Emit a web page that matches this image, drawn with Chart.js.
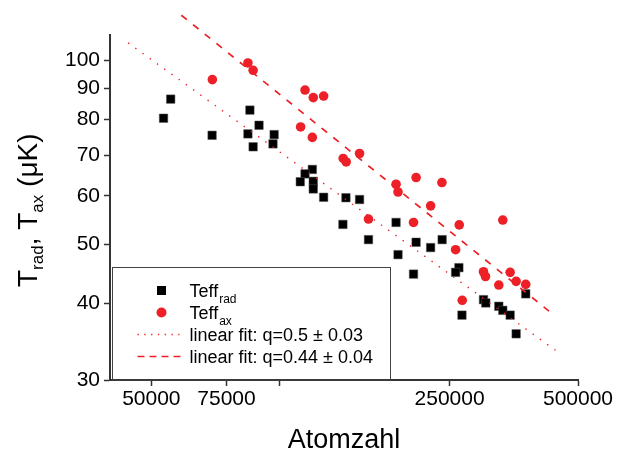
<!DOCTYPE html>
<html>
<head>
<meta charset="utf-8">
<script src="https://cdn.jsdelivr.net/npm/chart.js@4"></script>
<style>
  html, body { margin: 0; padding: 0; background: #fff; }
  #wrap { width: 617px; height: 457px; }
</style>
</head>
<body>
<div id="wrap"><canvas id="chart" width="617" height="457"></canvas></div>
<script>
// Teff vs Atomzahl, log-log

const radX = [55500, 53400, 69400, 85100, 89400, 84200, 97000, 86600, 96400, 119200, 114600, 111700, 119800, 119800, 126700, 142900, 140600, 153800, 161400, 187300, 189300, 208700, 205800, 225700, 240200, 262900, 258300, 267300, 300200, 304000, 326100, 333200, 346700, 358100, 377100];
const radY = [86.4, 80.4, 75.4, 82.9, 78.3, 75.8, 75.6, 72.2, 73.0, 66.3, 65.2, 63.3, 63.4, 61.6, 59.7, 59.6, 53.9, 59.2, 50.9, 54.3, 48.1, 50.4, 44.7, 49.4, 50.9, 45.8, 45.0, 38.3, 40.6, 40.1, 39.6, 39.0, 38.3, 35.7, 41.5];

const axX = [69500, 84200, 86600, 114600, 119800, 126700, 111900, 119200, 140800, 143100, 153800, 187300, 189300, 208700, 239900, 161400, 205800, 225700, 263400, 258300, 333200, 300200, 303500, 326100, 346700, 358100, 377100, 267700];
const axY = [93.0, 99.0, 96.3, 89.4, 86.9, 87.4, 77.8, 74.8, 69.1, 68.2, 70.4, 62.7, 60.9, 64.3, 63.1, 55.0, 54.3, 57.8, 53.8, 49.0, 54.8, 45.1, 44.3, 42.9, 45.0, 43.5, 43.0, 40.5];

// fit lines (end points)
const fitRadX = [44100, 452200];
const fitRadY = [106.8, 33.2];
const fitAxX = [58800, 429200];
const fitAxY = [118.5, 38.8];

const xTickValues = [50000, 75000, 100000, 250000, 500000];
const xTickLabels = ['50000', '75000', '', '250000', '500000'];
const yTickValues = [30, 40, 50, 60, 70, 80, 90, 100];

const legendLabels = ['Teff', 'Teff', 'linear fit: q=0.5 \u00b1 0.03', 'linear fit: q=0.44 \u00b1 0.04'];
const legendSubs = ['rad', 'ax', '', ''];

const RED = 'rgb(236,32,38)';
const AXIS = '#333';
const FONT = 'Arial, "Liberation Sans", sans-serif';

function pts(xs, ys) {
  return xs.map((x, i) => ({ x: x, y: ys[i] }));
}

// y axis title with subscripts, drawn rotated
const yTitlePlugin = {
  id: 'yTitle',
  afterDraw(chart) {
    const ctx = chart.ctx;
    const parts = [
      ['T', 28, 0], ['rad', 17, 6], [', ', 28, 0],
      ['T', 28, 0], ['ax', 17, 6], [' (\u03bcK)', 28, 0]
    ];
    ctx.save();
    let total = 0;
    parts.forEach(p => {
      ctx.font = p[1] + 'px ' + FONT;
      total += ctx.measureText(p[0]).width;
    });
    ctx.translate(37, 287);
    ctx.rotate(-Math.PI / 2);
    ctx.fillStyle = '#000';
    ctx.textBaseline = 'alphabetic';
    ctx.textAlign = 'left';
    let x = 0;
    parts.forEach(p => {
      ctx.font = p[1] + 'px ' + FONT;
      ctx.fillText(p[0], x, p[2]);
      x += ctx.measureText(p[0]).width;
    });
    ctx.restore();
  }
};

// boxed legend sitting on the x axis
const legendPlugin = {
  id: 'boxLegend',
  afterDraw(chart) {
    const ctx = chart.ctx;
    const a = chart.chartArea;
    const left = a.left + 2.5;
    const top = a.bottom - 112.5;
    ctx.save();
    ctx.strokeStyle = '#444';
    ctx.lineWidth = 1;
    ctx.strokeRect(left, top, 278, 112.5);

    const symX = left + 49;
    const textX = left + 77;
    const rows = [23, 45, 67, 89];

    // square
    ctx.fillStyle = '#000';
    ctx.fillRect(symX - 4.5, top + rows[0] - 4.5, 9, 9);
    // circle
    ctx.fillStyle = RED;
    ctx.beginPath();
    ctx.arc(symX, top + rows[1], 5, 0, Math.PI * 2);
    ctx.fill();
    // dotted
    ctx.strokeStyle = RED;
    ctx.lineWidth = 1.3;
    ctx.setLineDash([1.3, 5.5]);
    ctx.beginPath();
    ctx.moveTo(symX - 24, top + rows[2]);
    ctx.lineTo(symX + 18, top + rows[2]);
    ctx.stroke();
    // dashed
    ctx.lineWidth = 1.6;
    ctx.setLineDash([7, 5]);
    ctx.beginPath();
    ctx.moveTo(symX - 24, top + rows[3]);
    ctx.lineTo(symX + 20, top + rows[3]);
    ctx.stroke();
    ctx.setLineDash([]);

    ctx.fillStyle = '#000';
    ctx.textBaseline = 'alphabetic';
    ctx.textAlign = 'left';
    legendLabels.forEach((t, i) => {
      const base = top + rows[i] + 6;
      ctx.font = '18px ' + FONT;
      ctx.fillText(t, textX, base);
      if (legendSubs[i]) {
        const w = ctx.measureText(t).width;
        ctx.font = '12px ' + FONT;
        ctx.fillText(legendSubs[i], textX + w + 1, base + 6);
      }
    });
    ctx.restore();
  }
};

new Chart(document.getElementById('chart').getContext('2d'), {
  type: 'scatter',
  data: {
    datasets: [
      {
        label: 'Teffrad',
        data: pts(radX, radY),
        pointStyle: 'rect',
        pointRadius: 6,
        backgroundColor: '#000',
        borderColor: '#555',
        borderWidth: 0.5,
        order: 3
      },
      {
        label: 'Teffax',
        data: pts(axX, axY),
        pointStyle: 'circle',
        pointRadius: 4.8,
        backgroundColor: RED,
        borderColor: RED,
        borderWidth: 0,
        order: 2
      },
      {
        label: 'linear fit: q=0.5',
        data: pts(fitRadX, fitRadY),
        showLine: true,
        pointRadius: 0,
        borderColor: RED,
        borderWidth: 1.4,
        borderDash: [1.4, 7.5],
        order: 1
      },
      {
        label: 'linear fit: q=0.44',
        data: pts(fitAxX, fitAxY),
        showLine: true,
        pointRadius: 0,
        borderColor: RED,
        borderWidth: 1.7,
        borderDash: [7, 8],
        clip: false,
        order: 0
      }
    ]
  },
  options: {
    responsive: false,
    animation: false,
    layout: { padding: { top: 35, right: 39, left: 0, bottom: 0 } },
    plugins: {
      legend: { display: false },
      tooltip: { enabled: false }
    },
    scales: {
      x: {
        type: 'logarithmic',
        min: 40000,
        max: 500000,
        afterFit: s => { s.height = 77; },
        afterBuildTicks: s => { s.ticks = xTickValues.map(v => ({ value: v })); },
        border: { display: true, color: AXIS, width: 2 },
        grid: { display: true, drawOnChartArea: false, drawTicks: true, tickLength: 6, tickColor: AXIS, tickWidth: 1.5 },
        ticks: {
          autoSkip: false,
          maxRotation: 0,
          padding: 1,
          color: '#000',
          font: { family: FONT, size: 21 },
          callback: (v, i) => xTickLabels[i]
        },
        title: {
          display: true,
          text: 'Atomzahl',
          color: '#000',
          padding: { top: 0, bottom: 0 },
          font: { family: FONT, size: 27 }
        }
      },
      y: {
        type: 'logarithmic',
        min: 30,
        max: 110,
        afterFit: s => { s.width = 110; },
        afterBuildTicks: s => { s.ticks = yTickValues.map(v => ({ value: v })); },
        border: { display: true, color: AXIS, width: 2 },
        grid: { display: true, drawOnChartArea: false, drawTicks: true, tickLength: 6, tickColor: AXIS, tickWidth: 1.5 },
        ticks: {
          autoSkip: false,
          padding: 4,
          color: '#000',
          font: { family: FONT, size: 21 },
          callback: v => String(v)
        }
      }
    }
  },
  plugins: [yTitlePlugin, legendPlugin]
});
</script>
</body>
</html>
